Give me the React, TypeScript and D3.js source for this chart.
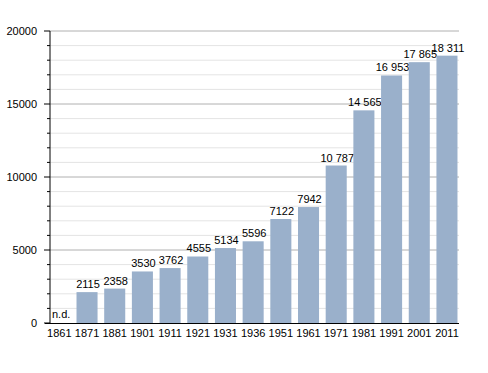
import React from "react";
import * as d3 from "d3";

const years = ["1861","1871","1881","1901","1911","1921","1931","1936","1951","1961","1971","1981","1991","2001","2011"];
const values: (number | null)[] = [null,2115,2358,3530,3762,4555,5134,5596,7122,7942,10787,14565,16953,17865,18311];
const labels = ["n.d.","2115","2358","3530","3762","4555","5134","5596","7122","7942","10 787","14 565","16 953","17 865","18 311"];
const majorTicks = [0,5000,10000,15000,20000];
const minorTicks = d3.range(0, 20001, 1000);

export default function App() {
  const W = 488, H = 373;
  const x = d3.scaleBand<string>().domain(years).range([45.5, 460.8]).paddingInner(0.24).paddingOuter(0.12);
  const y = d3.scaleLinear().domain([0, 20000]).range([323, 31]);
  const axisX = 50;
  const right = 459;
  const font = "Liberation Sans, Arial, sans-serif";
  return (
    <svg width={W} height={H} style={{ position: "absolute", left: 0, top: 0 }} fontFamily={font}>
      <rect width={W} height={H} fill="#fff" />
      {minorTicks.filter(t => t % 5000 !== 0).map(t => (
        <g key={"m" + t}>
          <line x1={axisX} x2={right} y1={y(t)} y2={y(t)} stroke="#e4e4e4" strokeWidth={1} />
          <line x1={axisX - 3} x2={axisX} y1={y(t)} y2={y(t)} stroke="#000" strokeWidth={1} />
        </g>
      ))}
      {majorTicks.filter(t => t > 0).map(t => (
        <line key={"g" + t} x1={axisX} x2={right} y1={y(t)} y2={y(t)} stroke="#b0b0b0" strokeWidth={1} />
      ))}
      {majorTicks.map(t => (
        <g key={"t" + t}>
          <line x1={axisX - 6} x2={axisX} y1={y(t)} y2={y(t)} stroke="#000" strokeWidth={1} />
          <text x={37} y={y(t)} dy="0.35em" textAnchor="end" fontSize={11} fill="#000">{t}</text>
        </g>
      ))}
      {years.map((yr, i) => {
        const v = values[i];
        const bx = x(yr)!;
        const bw = x.bandwidth();
        return (
          <g key={yr}>
            {v !== null && (
              <rect x={bx} y={y(v)} width={bw} height={y(0) - y(v)} fill="#9ab0cb" />
            )}
            {v !== null ? (
              <text x={bx + bw / 2 + 1} y={y(v) - 4} textAnchor="middle" fontSize={11} fill="#000">{labels[i]}</text>
            ) : (
              <text x={axisX + 2} y={y(0) - 5} textAnchor="start" fontSize={11} fill="#000">{labels[i]}</text>
            )}
            <text x={bx + bw / 2} y={336.5} textAnchor="middle" fontSize={11} fill="#000">{yr}</text>
          </g>
        );
      })}
      <line x1={axisX} x2={axisX} y1={31} y2={y(0)} stroke="#000" strokeWidth={1} />
      <line x1={45} x2={right} y1={y(0) + 0.5} y2={y(0) + 0.5} stroke="#000" strokeWidth={1} />
    </svg>
  );
}
